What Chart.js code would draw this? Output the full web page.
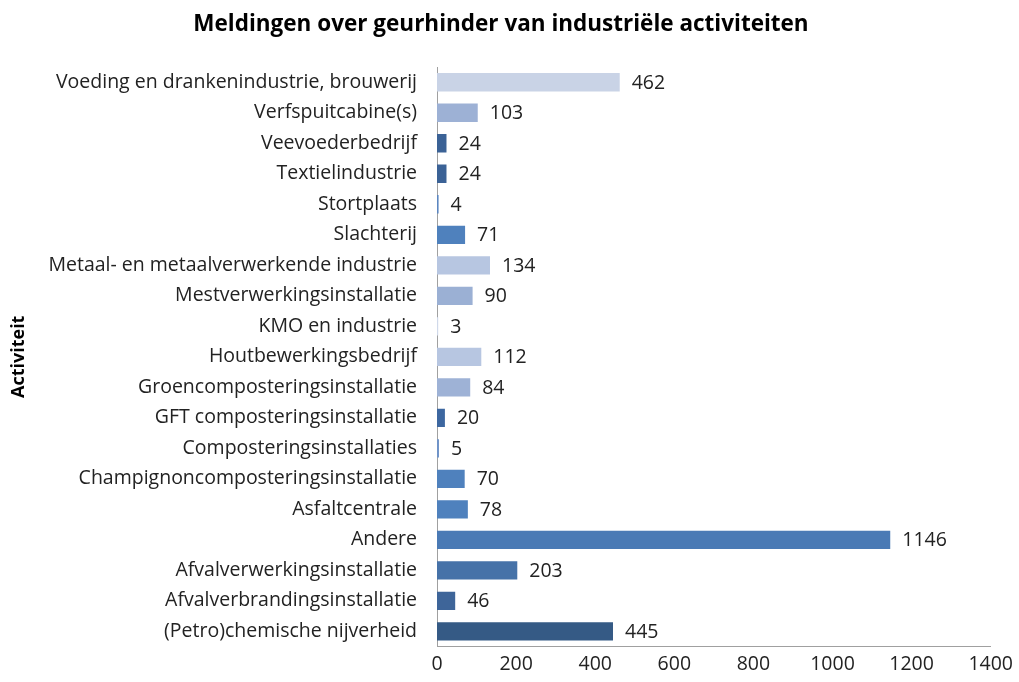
<!DOCTYPE html>
<html>
<head>
<meta charset="utf-8">
<script src="https://cdn.jsdelivr.net/npm/chart.js@4/dist/chart.umd.min.js"></script>
<style>
  html, body { margin: 0; padding: 0; background: #fff; }
  #wrap { width: 1019px; height: 682px; }
</style>
</head>
<body>
<div id="wrap"><canvas id="grafiek"></canvas></div>
<script>
var activiteiten = [
  'Voeding en drankenindustrie, brouwerij',
  'Verfspuitcabine(s)',
  'Veevoederbedrijf',
  'Textielindustrie',
  'Stortplaats',
  'Slachterij',
  'Metaal- en metaalverwerkende industrie',
  'Mestverwerkingsinstallatie',
  'KMO en industrie',
  'Houtbewerkingsbedrijf',
  'Groencomposteringsinstallatie',
  'GFT composteringsinstallatie',
  'Composteringsinstallaties',
  'Champignoncomposteringsinstallatie',
  'Asfaltcentrale',
  'Andere',
  'Afvalverwerkingsinstallatie',
  'Afvalverbrandingsinstallatie',
  '(Petro)chemische nijverheid'
];
var meldingen = [462, 103, 24, 24, 4, 71, 134, 90, 3, 112, 84, 20, 5, 70, 78, 1146, 203, 46, 445];
var kleuren = [
  '#c9d3e6', '#9db1d5', '#3b6296', '#3b6296', '#5b86c0', '#4f81bd',
  '#b7c6e1', '#9bb0d4', '#d0d9ea', '#b7c6e1', '#9eb2d6', '#3d67a0',
  '#6f93c8', '#4f81bd', '#4f81bd', '#4a7ab5', '#4672a8', '#3e6599', '#355a85'
];
var xTicks = [0, 200, 400, 600, 800, 1000, 1200, 1400];

var fontFam = "'Open Sans', sans-serif";
var fontSize = 19.5;

// waarden rechts naast de balken
var waardeLabels = {
  id: 'waardeLabels',
  afterDatasetsDraw: function(chart) {
    var ctx = chart.ctx;
    var meta = chart.getDatasetMeta(0);
    ctx.save();
    ctx.font = fontSize + 'px ' + fontFam;
    ctx.fillStyle = '#222';
    ctx.textAlign = 'left';
    ctx.textBaseline = 'middle';
    meta.data.forEach(function(bar, i) {
      ctx.fillText(String(meldingen[i]), bar.x + 12, bar.y + 1);
    });
    ctx.restore();
  }
};

var ctx = document.getElementById('grafiek');
new Chart(ctx, {
  type: 'bar',
  data: {
    labels: activiteiten,
    datasets: [{
      data: meldingen,
      backgroundColor: kleuren,
      borderWidth: 0,
      barPercentage: 0.6,
      categoryPercentage: 1
    }]
  },
  options: {
    indexAxis: 'y',
    responsive: true,
    maintainAspectRatio: false,
    animation: false,
    layout: { padding: { left: 8, right: 25, top: 0, bottom: 0 } },
    plugins: {
      legend: { display: false },
      tooltip: { enabled: false },
      title: {
        display: true,
        text: 'Meldingen over geurhinder van industriële activiteiten',
        color: '#000',
        font: { family: fontFam, size: 22.5, weight: 'bold', lineHeight: 1.2 },
        padding: { top: 11, bottom: 29 }
      }
    },
    scales: {
      x: {
        min: 0,
        max: 1400,
        afterBuildTicks: function(scale) {
          scale.ticks = xTicks.map(function(v) { return { value: v }; });
        },
        grid: { display: false, drawTicks: false },
        border: { display: true, color: '#a0a0a0', width: 1 },
        ticks: {
          padding: 6,
          color: '#222',
          font: { family: fontFam, size: fontSize },
          callback: function(v) { return String(v); }
        }
      },
      y: {
        grid: { display: false, drawTicks: false },
        border: { display: true, color: '#a0a0a0', width: 1 },
        afterFit: function(scale) { scale.width = 429; },
        ticks: {
          padding: 20,
          color: '#222',
          autoSkip: false,
          font: { family: fontFam, size: fontSize }
        },
        title: {
          display: true,
          text: 'Activiteit',
          color: '#000',
          font: { family: fontFam, size: 18, weight: 'bold' },
          padding: 0
        }
      }
    }
  },
  plugins: [waardeLabels]
});
</script>
</body>
</html>
